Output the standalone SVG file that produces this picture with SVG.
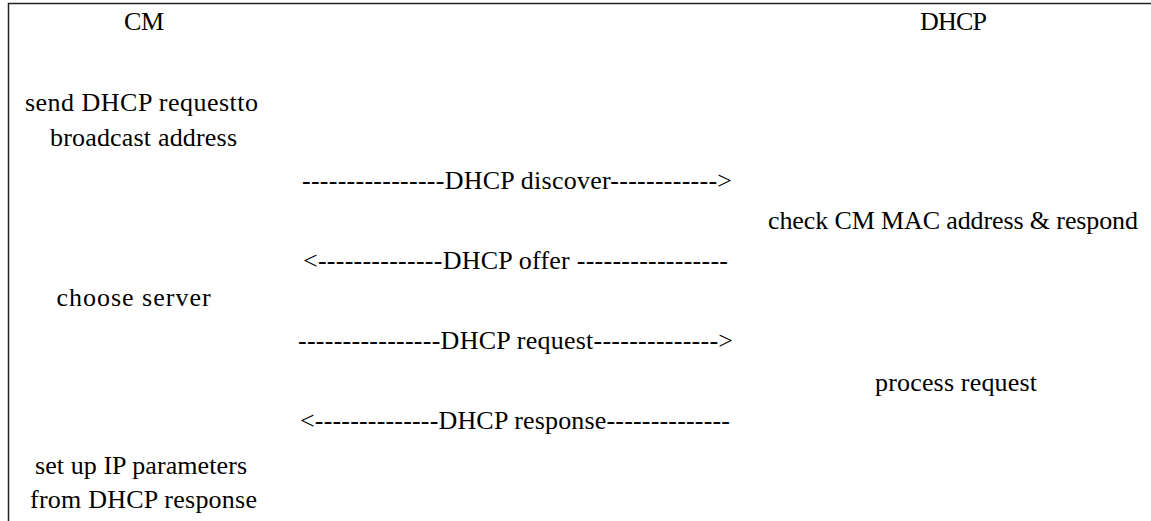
<svg xmlns="http://www.w3.org/2000/svg" width="1151" height="521" viewBox="0 0 1151 521">
<style>
text{font-family:'Liberation Serif','Times New Roman',serif;font-size:26px;fill:#000}
.frame{fill:none;stroke:#222;stroke-width:1.5}
</style>
<rect width="1151" height="521" fill="#fff"/>
<path class="frame" d="M8.5,521 V3.5 H1151"/>
<g id="cm-header"><text x="124" y="30" textLength="40">CM</text></g>
<g id="dhcp-header"><text x="920" y="30" textLength="67">DHCP</text></g>
<g id="cm-send"><text x="25" y="111" textLength="233">send DHCP requestto</text><text x="50" y="146" textLength="187">broadcast address</text></g>
<g id="dhcp-check"><text x="768" y="229" textLength="370">check CM MAC address &amp; respond</text></g>
<g id="cm-choose"><text x="134" y="306" text-anchor="middle" letter-spacing="1">choose server</text></g>
<g id="dhcp-process"><text x="875" y="391" textLength="162">process request</text></g>
<g id="cm-setup"><text x="35" y="474" textLength="212">set up IP parameters</text><text x="30" y="508" textLength="227">from DHCP response</text></g>
<g id="connectors">
<text x="302" y="189" textLength="430">----------------DHCP discover------------&gt;</text>
<text x="303" y="269" textLength="425">&lt;--------------DHCP offer -----------------</text>
<text x="298" y="349" textLength="435">----------------DHCP request--------------&gt;</text>
<text x="300" y="429" textLength="430">&lt;--------------DHCP response--------------</text>
</g>
</svg>
